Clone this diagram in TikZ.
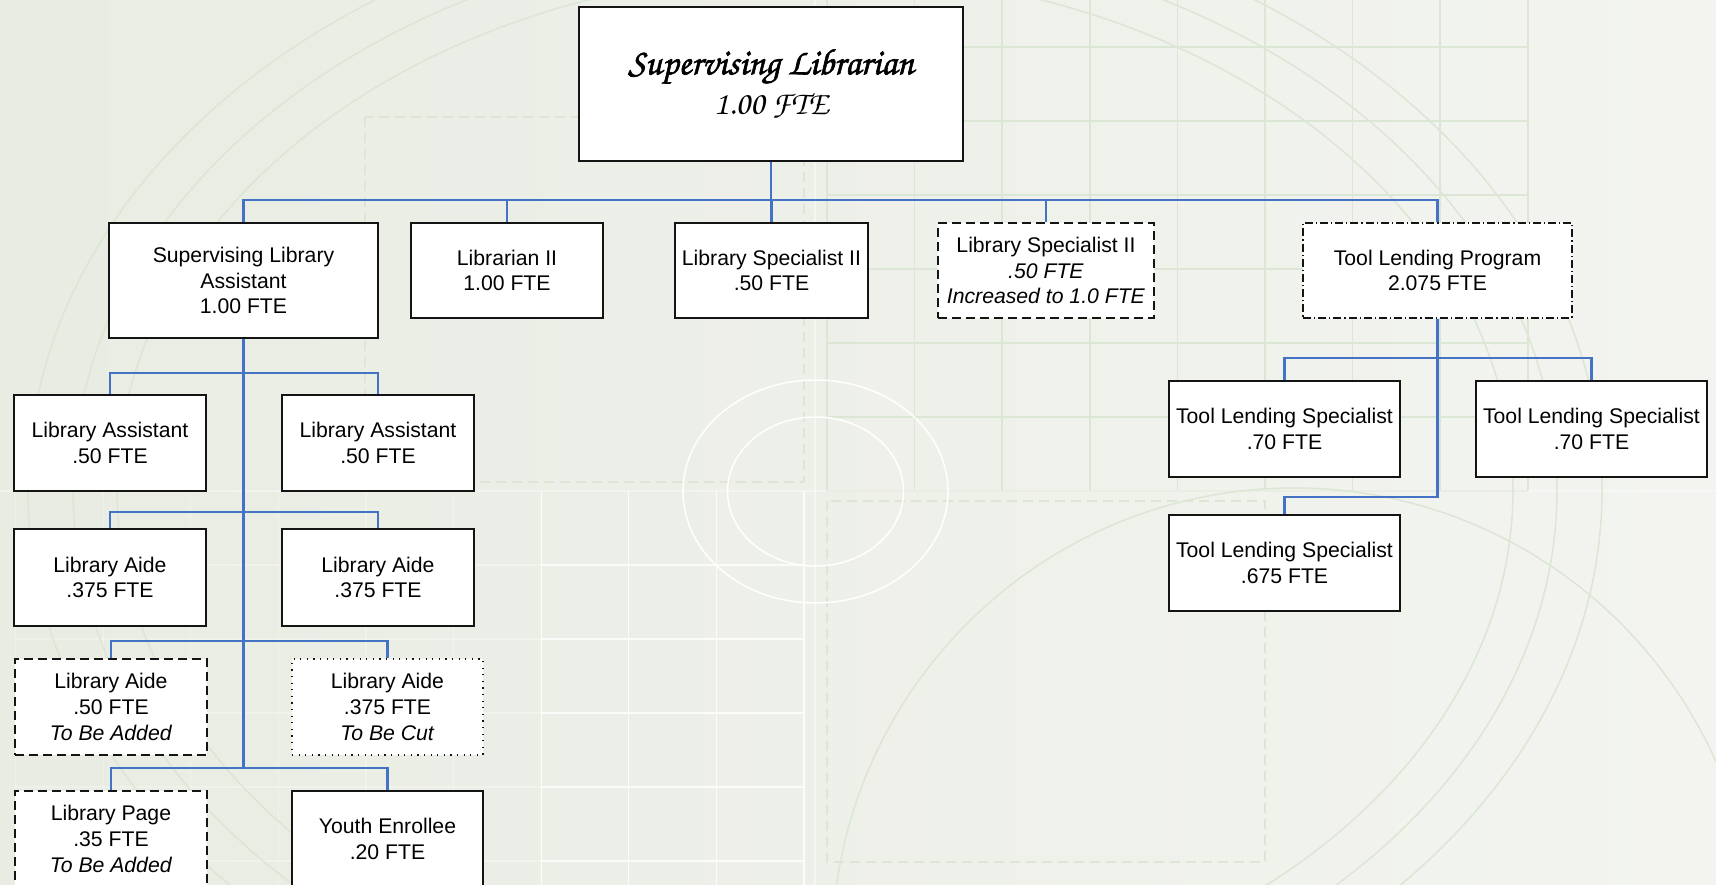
\documentclass[tikz,border=0pt]{standalone}
\usepackage{fontspec}
\setmainfont{Liberation Sans}
\newfontfamily\chorusfont{texgyrechorus-mediumitalic.otf}
\newfontfamily\chorusbold[FakeBold=1.6]{texgyrechorus-mediumitalic.otf}
\definecolor{bgL}{RGB}{232,236,226}
\definecolor{bgR}{RGB}{243,244,240}
\definecolor{deco}{RGB}{220,230,212}
\definecolor{link}{RGB}{68,114,196}
\definecolor{edge}{RGB}{20,20,20}
\tikzset{
  box/.style={draw=edge, fill=white, line width=1.6pt, inner sep=0pt,
    align=center, font=\fontsize{21.2}{25.6}\selectfont},
  plainbox/.style={box},
  addbox/.style={box, dash pattern=on 9pt off 5pt},
  cutbox/.style={box, line width=1.1pt, dash pattern=on 1.2pt off 5.4pt},
  progbox/.style={box, dash pattern=on 8pt off 3pt on 1.2pt off 3pt},
  link/.style={draw=link, line width=2.1pt},
  trunk/.style={draw=link, line width=3pt},
  decoline/.style={draw=deco, line width=1.5pt},
  faintwhite/.style={draw=white, line width=1.3pt, opacity=#1},
}
\begin{document}
\begin{tikzpicture}[x=1pt,y=-1pt]
\useasboundingbox (0,0) rectangle (1716,885);
% backdrop
\fill[left color=bgL, right color=bgR] (0,0) rectangle (1716,885);
\begin{scope}
\clip (0,0) rectangle (1716,885);
% grid in the upper right
\foreach \i in {0,...,8} \draw[decoline] ({827+87.6*\i},0) -- ({827+87.6*\i},491);
\foreach \j in {0,...,6} \draw[decoline] (827,{47+74*\j}) -- (1528,{47+74*\j});
% white grid in the lower left, fading to the left
\foreach \i in {0,...,3} \draw[faintwhite=0.8] ({804-87.6*\i},491) -- ({804-87.6*\i},885);
\foreach \i in {4,...,9} \draw[faintwhite=0.3] ({804-87.6*\i},491) -- ({804-87.6*\i},885);
\foreach \j in {0,...,5} {
  \draw[faintwhite=0.8] (541,{565+74*\j}) -- (804,{565+74*\j});
  \draw[faintwhite=0.3] (15,{565+74*\j}) -- (541,{565+74*\j});
}
\draw[faintwhite=0.45] (815,0) -- (815,885);
\draw[faintwhite=0.35] (0,491) -- (1716,491);
% dashed frames
\draw[decoline, dash pattern=on 10pt off 6pt] (365,117) rectangle (804,482);
\draw[decoline, dash pattern=on 10pt off 6pt] (827,501) rectangle (1265,862);
% large rings
\draw[decoline] (815,490) ellipse [x radius=698, y radius=518];
\draw[decoline] (815,490) ellipse [x radius=742, y radius=555];
\draw[decoline] (815,490) ellipse [x radius=787, y radius=591];
\draw[decoline] (1294,950) circle [radius=462];
% white rings in the middle
\draw[white, line width=1.5pt] (815.5,491.5) ellipse [x radius=132.5, y radius=111.5];
\draw[white, line width=1.5pt] (815.5,491.5) ellipse [x radius=88, y radius=74.5];
\end{scope}

% top
\node[box, minimum width=384pt, minimum height=154pt] (top) at (771,84)
  {{\chorusbold\fontsize{37}{42}\selectfont Supervising Librarian}\\[9pt]
   {\chorusfont\fontsize{33}{40}\selectfont 1.00 FTE}};

% second row
\node[plainbox, minimum width=269pt, minimum height=115pt] (sla) at (243.5,280.5)
  {Supervising Library\\Assistant\\1.00 FTE};
\node[plainbox, minimum width=192pt, minimum height=95pt] (lib2) at (507,270.5)
  {Librarian II\\1.00 FTE};
\node[plainbox, minimum width=193pt, minimum height=95pt] (spec) at (771.5,270.5)
  {Library Specialist II\\.50 FTE};
\node[addbox, minimum width=216pt, minimum height=95pt] (specup) at (1046,270.5)
  {Library Specialist II\\\textit{.50 FTE}\\\textit{Increased to 1.0 FTE}};
\node[progbox, minimum width=269pt, minimum height=95pt] (tlp) at (1437.5,270.5)
  {Tool Lending Program\\2.075 FTE};

% under the supervising library assistant
\node[plainbox, minimum width=192pt, minimum height=96pt] (asstA) at (110,443)
  {Library Assistant\\.50 FTE};
\node[plainbox, minimum width=192pt, minimum height=96pt] (asstB) at (378,443)
  {Library Assistant\\.50 FTE};
\node[plainbox, minimum width=192pt, minimum height=97pt] (aideA) at (110,577.5)
  {Library Aide\\.375 FTE};
\node[plainbox, minimum width=192pt, minimum height=97pt] (aideB) at (378,577.5)
  {Library Aide\\.375 FTE};
\node[addbox, minimum width=192pt, minimum height=96pt] (aideNew) at (111,707)
  {Library Aide\\.50 FTE\\\textit{To Be Added}};
\node[cutbox, minimum width=191pt, minimum height=96pt] (aideCut) at (387.5,707)
  {Library Aide\\.375 FTE\\\textit{To Be Cut}};
\node[addbox, minimum width=192pt, minimum height=96pt] (page) at (111,839)
  {Library Page\\.35 FTE\\\textit{To Be Added}};
\node[plainbox, minimum width=191pt, minimum height=96pt] (youth) at (387.5,839)
  {Youth Enrollee\\.20 FTE};

% tool lending specialists
\node[plainbox, minimum width=231pt, minimum height=96pt] (tlsA) at (1284.5,429)
  {Tool Lending Specialist\\.70 FTE};
\node[plainbox, minimum width=231pt, minimum height=96pt] (tlsB) at (1591.5,429)
  {Tool Lending Specialist\\.70 FTE};
\node[plainbox, minimum width=231pt, minimum height=96pt] (tlsC) at (1284.5,563)
  {Tool Lending Specialist\\.675 FTE};

% reporting lines
\foreach \n in {sla,lib2,spec,specup,tlp}
  \draw[link] (top.south) -- ++(0,38) -| (\n.north);
\draw[trunk] (sla.south) -- ++(0,429);
\foreach \n in {asstA,asstB}
  \draw[link] (sla.south) -- ++(0,34) -| (\n.north);
\foreach \n in {aideA,aideB}
  \draw[link] (sla.south) -- ++(0,173) -| (\n.north);
\foreach \n in {aideNew,aideCut}
  \draw[link] (sla.south) -- ++(0,302) -| (\n.north);
\foreach \n in {page,youth}
  \draw[link] (sla.south) -- ++(0,429) -| (\n.north);
\foreach \n in {tlsA,tlsB}
  \draw[link] (tlp.south) -- ++(0,39) -| (\n.north);
\draw[link] (tlp.south) -- ++(0,178) -| (tlsC.north);
\end{tikzpicture}
\end{document}
